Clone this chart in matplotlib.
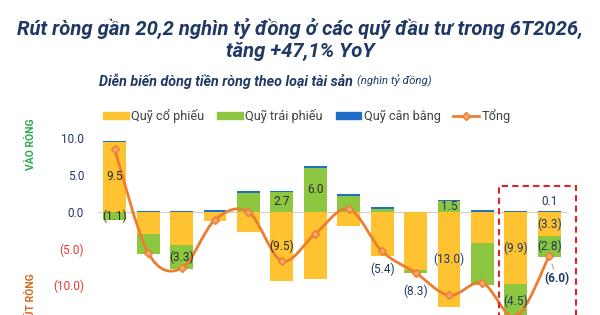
import numpy as np
import matplotlib
matplotlib.use("Agg")
from matplotlib import pyplot as plt
from matplotlib.patches import Patch, Rectangle, PathPatch
from matplotlib.lines import Line2D
from matplotlib.path import Path

# data (nghìn tỷ đồng), 14 kỳ
equity = [9.5, -3.0, -4.5, -1.3, -2.8, -9.5, -9.2, -2.0, -6.0, -8.0, -13.0, -4.3, -9.9, -3.3]
bond = [-1.1, -2.7, -3.3, 0.0, 2.5, 2.7, 6.0, 2.1, 0.4, -0.3, 1.5, -5.7, -4.5, -2.8]
balanced = [0.1, 0.1, 0.1, 0.2, 0.3, 0.1, 0.2, 0.3, 0.2, 0.0, 0.1, 0.3, 0.1, 0.1]
total = [8.5, -5.6, -7.7, -1.1, 0.0, -6.7, -3.0, 0.4, -5.4, -8.3, -11.4, -9.7, -14.3, -6.0]

series_names = ["Quỹ cổ phiếu", "Quỹ trái phiếu", "Quỹ cân bằng", "Tổng"]
yticks = [10, 5, 0, -5, -10]
ytick_labels = ["10.0", "5.0", "0.0", "(5.0)", "(10.0)"]

# which values get a data label
equity_labels = {0: "9.5", 5: "(9.5)", 10: "(13.0)", 12: "(9.9)", 13: "(3.3)"}
bond_labels = {0: "(1.1)", 2: "(3.3)", 5: "2.7", 6: "6.0", 10: "1.5", 12: "(4.5)", 13: "(2.8)"}
balanced_labels = {13: "0.1"}
total_labels = {8: "(5.4)", 9: "(8.3)"}

C_EQ = "#FFC331"
C_BOND = "#8DC63F"
C_BAL = "#1F6FC8"
C_LINE = "#ED7D31"
NAVY = "#1F3864"
DARK = "#2B2B2B"

plt.rcParams["font.family"] = ["Roboto", "DejaVu Sans"]

fig = plt.figure(figsize=(6, 3.15), dpi=100)
ax = fig.add_axes([98 / 600, 0, 469 / 600, 0.607])

x = np.arange(len(equity))
eq = np.array(equity)
bd = np.array(bond)
bl = np.array(balanced)
w = 0.68

# stack positives up, negatives down
pos_base = np.zeros(len(x))
neg_base = np.zeros(len(x))
bottoms = {}
for name, vals, col in [("eq", eq, C_EQ), ("bd", bd, C_BOND), ("bl", bl, C_BAL)]:
    base = np.where(vals >= 0, pos_base, neg_base)
    ax.bar(x, vals, w, bottom=base, color=col, linewidth=0, zorder=2)
    bottoms[name] = base.copy()
    pos_base = pos_base + np.where(vals >= 0, vals, 0)
    neg_base = neg_base + np.where(vals < 0, vals, 0)

ax.axhline(0, color="#D0D0D0", lw=0.9, zorder=1)

# smooth line (Excel-style bezier through the points)
pts = np.column_stack([x, total]).astype(float)
ext = np.vstack([pts[0], pts, pts[-1]])
verts = [pts[0]]
codes = [Path.MOVETO]
for i in range(len(pts) - 1):
    p0, p1, p2, p3 = ext[i], ext[i + 1], ext[i + 2], ext[i + 3]
    verts += [p1 + (p2 - p0) / 6, p2 - (p3 - p1) / 6, p2]
    codes += [Path.CURVE4] * 3
ax.add_patch(PathPatch(Path(verts, codes), facecolor="none", edgecolor=C_LINE,
                       lw=2, zorder=3, capstyle="round"))
ax.plot(x, total, linestyle="none", marker="D", ms=4.5, mfc="#F6A56B",
        mec=C_LINE, mew=1, zorder=4)

# data labels
for i, t in equity_labels.items():
    ax.text(i, bottoms["eq"][i] + equity[i] / 2, t, ha="center", va="center",
            fontsize=8.5, color=NAVY if i >= 10 else DARK, zorder=5)
for i, t in bond_labels.items():
    ax.text(i, bottoms["bd"][i] + bond[i] / 2, t, ha="center", va="center",
            fontsize=8.5, color=NAVY if i >= 10 else DARK, zorder=5)
for i, t in balanced_labels.items():
    ax.text(i, pos_base[i] + 1.3, t, ha="center", va="center",
            fontsize=8.5, color=NAVY, zorder=5)
for i, t in total_labels.items():
    ax.text(i, total[i] - 2.5, t, ha="center", va="center",
            fontsize=8.5, color=NAVY, zorder=5)
ax.annotate("(6.0)", xy=(13, total[13]), xytext=(13.22, total[13] - 3.1),
            ha="center", va="center", fontsize=8.5, fontweight="bold", color=NAVY,
            arrowprops=dict(arrowstyle="-", color="#A6A6A6", lw=0.8,
                            shrinkA=0, shrinkB=6), zorder=5)

# highlight box on last two periods
ax.add_patch(Rectangle((11.5, -20), 2.3, 23.5, fill=False, edgecolor="#E02424",
                       lw=1.5, linestyle=(0, (3, 2)), clip_on=False, zorder=6))

ax.set_xlim(-0.5, 13.53)
ax.set_ylim(-14.07, 12)
for s in ax.spines.values():
    s.set_visible(False)
ax.set_xticks([])
ax.set_yticks(yticks)
ax.set_yticklabels(ytick_labels, fontsize=8.5)
ax.tick_params(axis="y", length=0, pad=10)
for lab, v in zip(ax.get_yticklabels(), yticks):
    lab.set_color("#E03C31" if v < 0 else NAVY)

fig.text(31 / 600, 1 - 144 / 315, "VÀO RÒNG", rotation=90, ha="center", va="center",
         fontsize=7.5, fontweight="bold", color="#2EAA4A")
fig.text(31 / 600, 1 - 273 / 315, "RÚT RÒNG", rotation=90, ha="center", va="top",
         fontsize=7.5, fontweight="bold", color="#D2691E")

# titles
fig.text(0.5, 1 - 28 / 315, "Rút ròng gần 20,2 nghìn tỷ đồng ở các quỹ đầu tư trong 6T2026,",
         ha="center", va="center", fontsize=14.6, fontweight="bold", style="italic", color=NAVY)
fig.text(0.5, 1 - 51 / 315, "tăng +47,1% YoY",
         ha="center", va="center", fontsize=14.6, fontweight="bold", style="italic", color=NAVY)
fig.text(353 / 600, 1 - 81 / 315, "Diễn biến dòng tiền ròng theo loại tài sản",
         ha="right", va="center", fontsize=10.3, fontweight="bold", style="italic", color=NAVY)
fig.text(357 / 600, 1 - 81 / 315, "(nghìn tỷ đồng)",
         ha="left", va="center", fontsize=8.2, style="italic", color=NAVY)

handles = [Patch(color=C_EQ), Patch(color=C_BOND), Patch(color=C_BAL),
           Line2D([], [], color=C_LINE, lw=2, marker="D", ms=4.5, mfc="#F6A56B", mec=C_LINE)]
fig.legend(handles, series_names, loc="center", bbox_to_anchor=(307 / 600, 1 - 116 / 315),
           ncol=4, frameon=False, fontsize=9.2, handlelength=2.0, handleheight=0.55,
           handletextpad=0.2, columnspacing=1.0, labelcolor="#404040")

fig.savefig("out.png", dpi=100)
